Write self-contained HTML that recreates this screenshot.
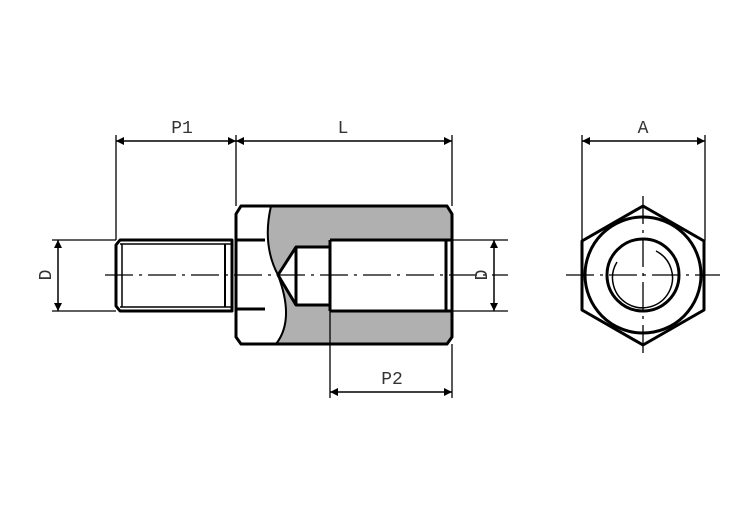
<!DOCTYPE html>
<html><head><style>body{margin:0;background:#fff}svg{display:block}</style></head><body>
<svg width="752" height="528" viewBox="0 0 752 528" xmlns="http://www.w3.org/2000/svg" font-family="Liberation Mono, monospace">
<rect width="752" height="528" fill="#fff"/>
<defs><marker id="a" viewBox="0 0 10 10" refX="10" refY="5" markerWidth="16" markerHeight="8" markerUnits="userSpaceOnUse" orient="auto-start-reverse"><path d="M0,0L10,5L0,10z" fill="#000"/></marker></defs>
<path d="M271,206 L447,206 L452,214 L452,337 L447,344 L276,344 Q295,320 278,275 Q262,245 271,206 Z" fill="#b0b0b0"/>
<rect x="296" y="247" width="34" height="58" fill="#fff"/>
<rect x="330" y="240" width="122" height="71" fill="#fff"/>
<path d="M278,275 L296,247 L296,305 Z" fill="#fff"/>
<g fill="none" stroke="#000" stroke-width="3" stroke-linejoin="round">
<path d="M120,240 L232,240 L232,311 L120,311 L116,306 L116,245 Z"/>
<line x1="120" y1="244" x2="232" y2="244" stroke-width="1.5"/>
<line x1="120" y1="307" x2="232" y2="307" stroke-width="1.5"/>
<line x1="225" y1="244" x2="225" y2="307" stroke-width="2"/>
<line x1="122" y1="244" x2="122" y2="307" stroke-width="1.5"/>
<path d="M241,206 L447,206 L452,214 L452,337 L447,344 L241,344 L236,337 L236,214 Z"/>
<line x1="236" y1="240" x2="265" y2="240"/>
<line x1="236" y1="309" x2="265" y2="309"/>
<line x1="276" y1="344" x2="300" y2="344"/>
<path d="M271,206 Q262,245 278,275 Q295,320 276,344" stroke-width="2"/>
<path d="M330,247 L296,247 L278,275 L296,305 L330,305"/>
<line x1="296" y1="247" x2="296" y2="305"/>
<path d="M330,240 L452,240 M330,311 L452,311"/>
<line x1="330" y1="240" x2="330" y2="311"/>
<line x1="446" y1="240" x2="446" y2="311"/>
<polygon points="643,206 704,241 704,310 643,345 582,310 582,241"/>
<circle cx="643" cy="275" r="58"/>
<circle cx="643" cy="275" r="36"/>
</g>
<path d="M656,251 A30,30 0 1 1 617,262" fill="none" stroke="#000" stroke-width="1.5"/>
<g stroke="#000" stroke-width="1.3" fill="none">
<line x1="105" y1="275" x2="508" y2="275" stroke-dasharray="28,6,3,6"/>
<line x1="566" y1="275" x2="720" y2="275" stroke-dasharray="28,6,3,6"/>
<line x1="643" y1="196" x2="643" y2="355" stroke-dasharray="28,6,3,6"/>
<line x1="116" y1="135" x2="116" y2="240"/>
<line x1="236" y1="135" x2="236" y2="206"/>
<line x1="452" y1="135" x2="452" y2="206"/>
<line x1="582" y1="135" x2="582" y2="241"/>
<line x1="705" y1="135" x2="705" y2="241"/>
<line x1="330" y1="311" x2="330" y2="398"/>
<line x1="452" y1="344" x2="452" y2="398"/>
<line x1="52" y1="240" x2="116" y2="240"/>
<line x1="52" y1="311" x2="116" y2="311"/>
<line x1="452" y1="240" x2="508" y2="240"/>
<line x1="452" y1="311" x2="508" y2="311"/>
</g>
<g stroke="#000" stroke-width="1.5" marker-start="url(#a)" marker-end="url(#a)">
<line x1="116" y1="141" x2="236" y2="141"/>
<line x1="236" y1="141" x2="452" y2="141"/>
<line x1="582" y1="141" x2="705" y2="141"/>
<line x1="330" y1="392" x2="452" y2="392"/>
<line x1="58" y1="240" x2="58" y2="311"/>
<line x1="494" y1="240" x2="494" y2="311"/>
</g>
<g font-size="18" fill="#333" text-anchor="middle">
<text x="182" y="133">P1</text>
<text x="343" y="133">L</text>
<text x="643" y="133">A</text>
<text x="392" y="384">P2</text>
<text transform="translate(51,275) rotate(-90)">D</text>
<text transform="translate(487,275) rotate(-90)">D</text>
</g>
</svg>
</body></html>
